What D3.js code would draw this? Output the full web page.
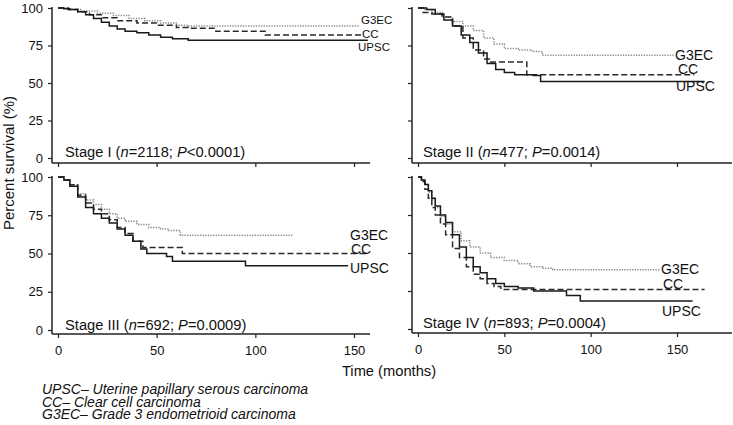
<!DOCTYPE html>
<html><head><meta charset="utf-8">
<script src="https://cdn.jsdelivr.net/npm/d3@7"></script>
<style>
body{margin:0;background:#fff;}
text{font-family:"Liberation Sans",Arial,Helvetica,sans-serif;fill:#111;}
</style></head>
<body><svg id="c" width="733" height="425"></svg>
<script>
// ---- Data (time in months, percent survival) ----
const seriesNames = ["UPSC","CC","G3EC"];
const yTicks = [0,25,50,75,100];
const xTicks = [0,50,100,150];
const stageLabels = [
  ["Stage I (", "n", "=2118; ", "P", "<0.0001)"],
  ["Stage II (", "n", "=477; ", "P", "=0.0014)"],
  ["Stage III (", "n", "=692; ", "P", "=0.0009)"],
  ["Stage IV (", "n", "=893; ", "P", "=0.0004)"]
];
const legendLines = [
  "UPSC\u2013 Uterine papillary serous carcinoma",
  "CC\u2013 Clear cell carcinoma",
  "G3EC\u2013 Grade 3 endometrioid carcinoma"
];
// Stage I
const s1UPSC = [[0,100],[3,99.5],[6,99],[10,97.5],[14,95.5],[18,93],[22,90.5],[26,88],[30,86],[34,84.5],[40,83.5],[46,82],[52,80.5],[58,79.5],[66,78.5],[157,78.5]];
const s1CC   = [[0,100],[5,99],[10,97.5],[16,95.5],[22,93.5],[30,91.5],[40,90],[50,88.5],[60,87],[66,86.5],[80,84.5],[105,82],[154,82]];
const s1G3EC = [[0,100],[6,99],[12,98],[20,96.5],[28,95],[36,93],[44,91.5],[52,90],[60,88.5],[66,88],[153,88]];
// Stage II
const s2UPSC = [[0,100],[5,99],[10,96],[15,92],[20,88],[25,82],[30,77],[35,70],[40,63],[45,59],[50,57],[56,55.5],[67,55],[71,51],[166,51]];
const s2CC   = [[0,100],[3,97],[8,96],[14,94],[20,88],[26,80],[32,72],[38,66],[42,64],[63,55.5],[160,55.5]];
const s2G3EC = [[0,100],[4,99],[8,97],[14,94],[20,91],[26,88],[32,85],[38,80],[44,76],[50,73],[58,72],[66,71],[72,68.5],[148,68.5]];
// Stage III
const s3UPSC = [[0,100],[3,98],[6,94],[10,87],[14,80],[18,76],[22,73],[26,70],[30,66],[34,62],[38,58],[42,53],[45,50],[55,48],[58,45],[95,42],[147,42]];
const s3CC   = [[0,100],[3,98],[6,95],[10,88],[14,83],[18,79],[22,76],[26,72],[30,67],[34,63],[38,58],[43,54],[63,50],[157,50]];
const s3G3EC = [[0,100],[3,98],[6,95],[10,89],[14,85],[18,82],[22,79],[26,76],[30,73],[34,71],[40,69],[46,67],[52,66],[56,65],[62,62],[119,62]];
// Stage IV
const s4UPSC = [[0,100],[2,98],[4,95],[6,91],[8,86],[10,81],[13,75],[16,70],[20,62],[24,54],[28,47],[32,41],[36,37],[40,33],[45,30],[50,28],[58,27],[67,25],[86,22],[94,18.5],[159,18.5]];
const s4CC   = [[0,100],[2,97],[4,92],[6,86],[8,80],[10,75],[13,69],[16,62],[20,53],[24,47],[28,41],[32,36],[36,33],[40,30],[44,28],[48,26],[166,26]];
const s4G3EC = [[0,100],[2,98],[4,95],[6,90],[8,85],[10,80],[13,74],[16,69],[20,64],[25,58],[30,54],[36,50],[42,47],[50,45],[58,43],[65,41],[72,40],[78,39],[140,39]];

// ---- Layout ----
const panels = [
  {data:[s1UPSC,s1CC,s1G3EC], x0:58, x1:354, yTop:8,   yBot:158, axX:52,  axY:163, axEnd:370, showY:true,  showX:false, lf:11.5, lab:[[358,47],[362,33.5],[361,20]], st:[65,152]},
  {data:[s2UPSC,s2CC,s2G3EC], x0:418,x1:677, yTop:8,   yBot:158, axX:412, axY:163, axEnd:732, showY:false, showX:false, lf:14, lab:[[676,86],[678,69],[675,55]], st:[423,152]},
  {data:[s3UPSC,s3CC,s3G3EC], x0:58, x1:354, yTop:177, yBot:330, axX:52,  axY:334, axEnd:370, showY:true,  showX:true,  lf:14, lab:[[350,268],[351,249],[350,235]], st:[65,325]},
  {data:[s4UPSC,s4CC,s4G3EC], x0:418,x1:677, yTop:177, yBot:329, axX:412, axY:333, axEnd:732, showY:false, showX:true,  lf:14, lab:[[662,311],[663,284],[661,269]], st:[423,323]}
];
const styles = [
  {stroke:"#1a1a1a", dash:null, w:1.5},
  {stroke:"#2a2a2a", dash:"6,3", w:1.5},
  {stroke:"#8a8a8a", dash:"1.3,1.3", w:1.5}
];

const svg = d3.select("#c");
panels.forEach((p,i)=>{
  const x = d3.scaleLinear().domain([0,150]).range([p.x0,p.x1]);
  const y = d3.scaleLinear().domain([0,100]).range([p.yBot,p.yTop]);
  const g = svg.append("g");
  g.append("line").attr("x1",p.axX).attr("x2",p.axX).attr("y1",y(100)-1).attr("y2",p.axY)
    .attr("stroke","#222").attr("stroke-width",1.5);
  g.append("line").attr("x1",p.axX).attr("x2",p.axEnd).attr("y1",p.axY).attr("y2",p.axY)
    .attr("stroke","#222").attr("stroke-width",1.5);
  const ya = d3.axisLeft(y).tickValues(yTicks).tickSize(4).tickPadding(5)
    .tickFormat(p.showY ? d3.format("d") : ()=>"");
  const yg = g.append("g").attr("transform",`translate(${p.axX},0)`).call(ya);
  yg.select(".domain").remove();
  yg.selectAll("line").attr("stroke","#222").attr("stroke-width",1.2);
  yg.selectAll("text").attr("font-size",13).attr("fill","#111")
    .style("font-family","'Liberation Sans',Arial,sans-serif");
  const xa = d3.axisBottom(x).tickValues(xTicks).tickSize(4).tickPadding(8)
    .tickFormat(p.showX ? d3.format("d") : ()=>"");
  const xg = g.append("g").attr("transform",`translate(0,${p.axY})`).call(xa);
  xg.select(".domain").remove();
  xg.selectAll("line").attr("stroke","#222").attr("stroke-width",1.2);
  xg.selectAll("text").attr("font-size",13).attr("fill","#111")
    .style("font-family","'Liberation Sans',Arial,sans-serif");
  const line = d3.line().x(d=>x(d[0])).y(d=>y(d[1])).curve(d3.curveStepAfter);
  [2,1,0].forEach(k=>{
    g.append("path").attr("d",line(p.data[k])).attr("fill","none")
      .attr("stroke",styles[k].stroke).attr("stroke-width",styles[k].w)
      .attr("stroke-dasharray",styles[k].dash);
  });
  seriesNames.forEach((nm,k)=>{
    g.append("text").attr("x",p.lab[k][0]).attr("y",p.lab[k][1]).attr("dy","0.35em")
      .attr("font-size",p.lf).text(nm);
  });
  const t = g.append("text").attr("x",p.st[0]).attr("y",p.st[1]).attr("dy","0.35em").attr("font-size",14.7);
  stageLabels[i].forEach((s,j)=>{
    t.append("tspan").attr("font-style",(j===1||j===3)?"italic":"normal").text(s);
  });
});

svg.append("text").attr("transform","translate(9,163) rotate(-90)").attr("text-anchor","middle")
  .attr("dy","0.35em").attr("font-size",15).text("Percent survival (%)");
svg.append("text").attr("x",389).attr("y",371).attr("text-anchor","middle").attr("dy","0.35em")
  .attr("font-size",14.7).text("Time (months)");
legendLines.forEach((s,k)=>{
  svg.append("text").attr("x",42).attr("y",389.5+k*12.3).attr("dy","0.35em")
    .attr("font-size",14).attr("font-style","italic").text(s);
});
</script></body></html>
